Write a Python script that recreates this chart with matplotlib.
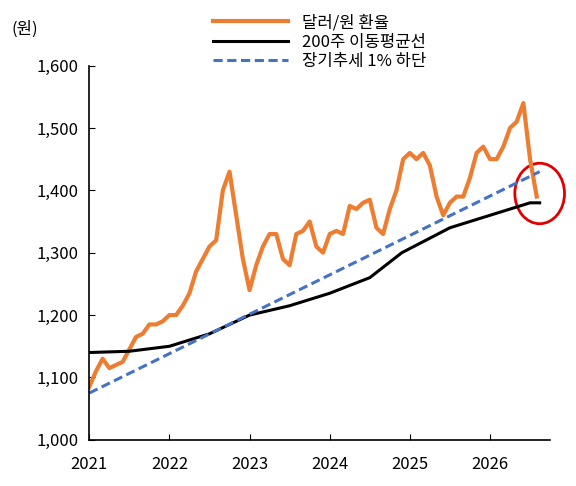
import matplotlib
matplotlib.use("Agg")
import matplotlib.pyplot as plt
from matplotlib.patches import Ellipse
import numpy as np

plt.rcParams['font.family'] = ['Noto Sans CJK KR', 'DejaVu Sans']

fx_vals = [1085,1110,1130,1115,1120,1125,1145,1165,1170,1185,1185,1190,
           1200,1200,1215,1235,1270,1290,1310,1320,1400,1430,1360,1290,
           1240,1280,1310,1330,1330,1290,1280,1330,1335,1350,1310,1300,
           1330,1335,1330,1375,1370,1380,1385,1340,1330,1370,1400,1450,
           1460,1450,1460,1440,1390,1360,1380,1390,1390,1420,1460,1470,
           1450,1450,1470,1500,1510,1540,1450,1390]
fx_t = 2021 + np.arange(len(fx_vals)) / 12

ma_t = [2021.0,2021.5,2022.0,2022.5,2023.0,2023.5,2024.0,2024.5,2024.9,2025.2,2025.5,2026.0,2026.5,2026.62]
ma_vals = [1140,1142,1150,1170,1200,1215,1235,1260,1300,1320,1340,1360,1380,1380]

tr_t = [2021.0, 2026.62]
tr_vals = [1075, 1430]

fig = plt.figure(figsize=(5.76,4.86), dpi=100)
ax = fig.add_axes([0.155, 0.095, 0.8, 0.77])
ax.plot(fx_t, fx_vals, color='#ED7D31', lw=3, label='달러/원 환율')
ax.plot(ma_t, ma_vals, color='black', lw=2.2, label='200주 이동평균선')
ax.plot(tr_t, tr_vals, color='#4472C4', lw=2.2, ls=(0,(3,1.5)), label='장기추세 1% 하단')
ax.set_xlim(2021, 2026.75)
ax.set_ylim(1000, 1600)
ax.set_xticks(range(2021, 2027))
ax.set_yticks(range(1000, 1601, 100))
ax.set_yticklabels([f'{v:,}' for v in range(1000, 1601, 100)])
ax.tick_params(labelsize=12, direction='in', length=4)
ax.tick_params(axis='x', pad=12)
ax.tick_params(axis='y', pad=8)
for s in ['top','right']:
    ax.spines[s].set_visible(False)
ax.spines['left'].set_linewidth(1.2)
ax.spines['bottom'].set_linewidth(1.2)
ax.add_patch(Ellipse((2026.62, 1395), 0.62, 97, fill=False, ec='#E00000', lw=2, clip_on=False))
fig.text(0.02, 0.93, '(원)', fontsize=12)
ax.legend(loc='lower center', bbox_to_anchor=(0.5, 0.97), frameon=False, fontsize=12,
          handlelength=4.5, labelspacing=0.15, borderaxespad=0)
fig.savefig('out.png')
